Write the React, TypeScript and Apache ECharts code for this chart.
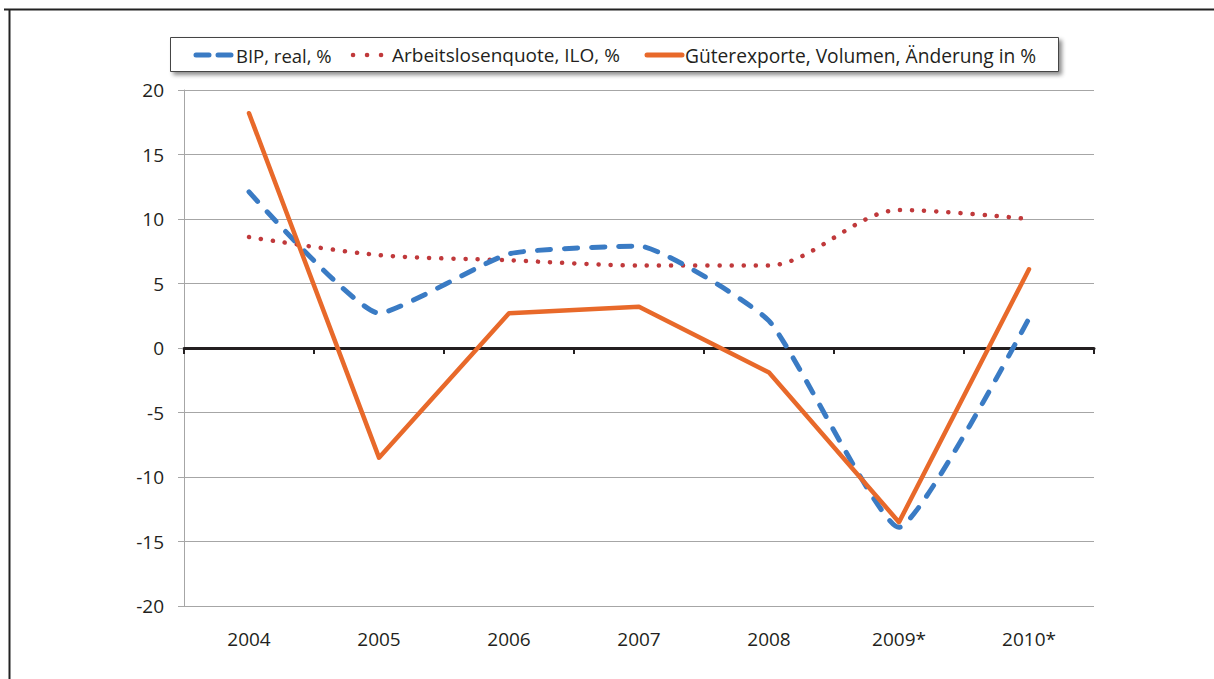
import React, { useEffect, useRef } from "react";
import * as echarts from "echarts";

const categories = ["2004", "2005", "2006", "2007", "2008", "2009*", "2010*"];
const bipReal = [12.1, 2.7, 7.3, 7.9, 2.1, -13.9, 2.3];
const arbeitslosenquote = [8.6, 7.2, 6.8, 6.4, 6.4, 10.7, 10.0];
const gueterexporte = [18.2, -8.5, 2.7, 3.2, -1.9, -13.5, 6.1];
const seriesNames = ["BIP, real, %", "Arbeitslosenquote, ILO, %", "Güterexporte, Volumen, Änderung in %"];
const yMin = -20;
const yMax = 20;
const yStep = 5;

const FONT = "'Open Sans', 'Noto Sans', sans-serif";
const TEXT = "#231f20";
const BLUE = "#3a7bc4";
const RED = "#c0393b";
const ORANGE = "#e8692a";

export default function App() {
  const ref = useRef<HTMLDivElement>(null);
  useEffect(() => {
    document.body.style.margin = "0";
    const chart = echarts.init(ref.current!, null, { renderer: "svg" });
    chart.setOption({
      animation: false,
      backgroundColor: "#ffffff",
      textStyle: { fontFamily: FONT },
      grid: { left: 184, right: 120, top: 90, bottom: 73 },
      xAxis: [
        {
          type: "category",
          data: categories,
          position: "bottom",
          boundaryGap: true,
          axisLine: { show: false, onZero: false },
          axisTick: { show: false },
          splitLine: { show: false },
          axisLabel: { fontSize: 19, color: TEXT, fontFamily: FONT, margin: 23 },
        },
        {
          type: "category",
          data: categories,
          position: "top",
          boundaryGap: true,
          axisLine: { show: true, onZero: true, lineStyle: { color: TEXT, width: 3 } },
          axisTick: { show: true, inside: true, interval: 0, length: 6, lineStyle: { color: TEXT, width: 2 } },
          axisLabel: { show: false },
          splitLine: { show: false },
        },
      ],
      yAxis: {
        type: "value",
        min: yMin,
        max: yMax,
        interval: yStep,
        axisLine: { show: true, lineStyle: { color: "#a6a6a6", width: 1 } },
        axisTick: { show: true, length: 6, lineStyle: { color: "#a6a6a6" } },
        splitLine: { show: true, lineStyle: { color: "#a6a6a6", width: 1 } },
        axisLabel: { fontSize: 19, color: TEXT, fontFamily: FONT, margin: 20 },
      },
      series: [
        {
          name: seriesNames[1],
          type: "line",
          data: arbeitslosenquote,
          symbol: "none",
          smooth: 0.3,
          lineStyle: { color: RED, width: 4.5, type: [0.1, 12], cap: "round" },
          z: 2,
        },
        {
          name: seriesNames[0],
          type: "line",
          data: bipReal,
          symbol: "none",
          smooth: 0.15,
          lineStyle: { color: BLUE, width: 5, type: [13, 14], cap: "round" },
          z: 3,
        },
        {
          name: seriesNames[2],
          type: "line",
          data: gueterexporte,
          symbol: "none",
          lineStyle: { color: ORANGE, width: 4.5, cap: "round", join: "round" },
          z: 4,
        },
      ],
      graphic: [
        { type: "line", shape: { x1: 4, y1: 9.5, x2: 1214, y2: 9.5 }, style: { stroke: "#222", lineWidth: 2 } },
        { type: "line", shape: { x1: 9.5, y1: 9, x2: 9.5, y2: 679 }, style: { stroke: "#222", lineWidth: 2 } },
        {
          type: "rect",
          shape: { x: 170.5, y: 37.5, width: 888, height: 34 },
          style: {
            fill: "#fff",
            stroke: "#444",
            lineWidth: 1,
            shadowBlur: 4,
            shadowOffsetX: 3,
            shadowOffsetY: 3,
            shadowColor: "rgba(0,0,0,0.45)",
          },
          z: 10,
        },
        {
          type: "line",
          shape: { x1: 196, y1: 55, x2: 233, y2: 55 },
          style: { stroke: BLUE, lineWidth: 5, lineDash: [13, 9], lineCap: "round" },
          z: 11,
        },
        {
          type: "line",
          shape: { x1: 353, y1: 55, x2: 383, y2: 55 },
          style: { stroke: RED, lineWidth: 4.5, lineDash: [0.1, 13.9], lineCap: "round" },
          z: 11,
        },
        {
          type: "line",
          shape: { x1: 647, y1: 55, x2: 682, y2: 55 },
          style: { stroke: ORANGE, lineWidth: 5, lineCap: "round" },
          z: 11,
        },
        {
          type: "text",
          x: 236,
          y: 55,
          style: { text: seriesNames[0], font: `18.5px ${FONT}`, fill: TEXT, verticalAlign: "middle" },
          z: 11,
        },
        {
          type: "text",
          x: 392,
          y: 55,
          style: { text: seriesNames[1], font: `19px ${FONT}`, fill: TEXT, verticalAlign: "middle" },
          z: 11,
        },
        {
          type: "text",
          x: 685,
          y: 55,
          style: { text: seriesNames[2], font: `19.2px ${FONT}`, fill: TEXT, verticalAlign: "middle" },
          z: 11,
        },
      ],
    });
    return () => chart.dispose();
  }, []);
  return <div ref={ref} style={{ width: 1214, height: 679 }} />;
}
